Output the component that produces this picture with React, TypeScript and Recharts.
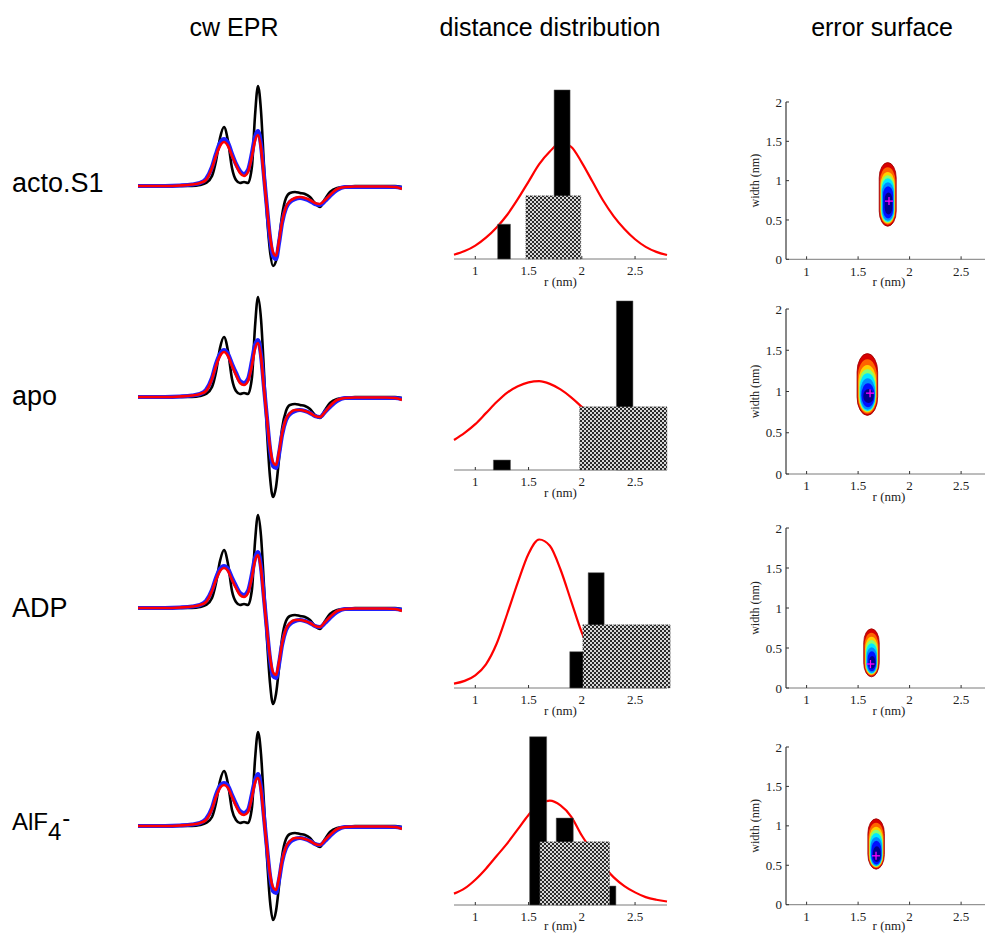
import React from "react";
import {
  LineChart,
  Line,
  ComposedChart,
  XAxis,
  YAxis,
  ReferenceArea,
  Scatter,
} from "recharts";

const SANS = '"Liberation Sans", Arial, Helvetica, sans-serif';
const SERIF = '"Liberation Serif", "Times New Roman", serif';

// ---- cw EPR spectra (field position in px units, amplitude relative to baseline) ----
const EPR_X = [
  138, 150, 165, 180, 192, 200, 206, 212, 216, 220, 224, 228, 232, 236, 240, 244, 248, 252, 255, 258, 261, 264, 267,
  270, 273, 276, 279, 282, 286, 290, 295, 300, 305, 310, 315, 320, 325, 330, 337, 345, 355, 370, 385, 395, 402,
];

const BLACK_ACTO = [0, 0, 0, 0, 0, 1, 3, 10, 25, 48, 59, 45, 18, 6, 3, 4, 3, 20, 70, 100, 75, 20, -30, -65, -80, -75, -55, -30, -12, -7, -6, -7, -8, -11, -17, -21, -13, -6, -2, -1, 0, 0, 0, 0, -1];
const BLUE_ACTO = [0, 0, 0, 0.5, 1.5, 3, 7, 19, 32, 43, 47, 43, 32, 22, 15, 12, 16, 33, 49, 55, 41, 10, -22, -52, -70, -73, -57, -37, -22, -16, -13, -12, -13, -15, -18, -19, -15, -10, -4, -1, -1, -1, -1, -1, -2];
const RED_ACTO = [0, 0, 0, 0.5, 1.5, 3, 6, 18, 30, 40, 44, 40, 30, 21, 13, 10, 14, 30, 45, 51, 38, 8, -22, -50, -66, -70, -55, -36, -21, -15, -12, -11, -12, -14, -17, -18, -14, -9, -3, -1, -0.5, -0.5, -0.5, -1, -3];

const BLACK_APO = [0, 0, 0, 0, 0, 1, 3, 10, 25, 49, 60, 46, 18, 6, 3, 4, 3, 20, 70, 100, 78, 25, -35, -80, -100, -90, -62, -32, -14, -8, -7, -8, -9, -12, -18, -21, -13, -6, -2, -1, 0, 0, 0, 0, -1];
const BLUE_APO = [0, 0, 0, 0.5, 1.5, 3, 7, 19, 33, 43, 47, 43, 33, 24, 16, 14, 18, 36, 52, 57, 42, 10, -22, -52, -69, -71, -57, -38, -23, -17, -14, -13, -14, -16, -19, -20, -15, -10, -4, -1, -1, -1, -1, -1, -2];
const RED_APO = [0, 0, 0, 0.5, 1.5, 3, 6, 18, 31, 41, 45, 41, 31, 22, 14, 12, 16, 32, 48, 54, 40, 8, -22, -50, -65, -68, -55, -37, -22, -16, -13, -13, -14, -16, -19, -20, -15, -9, -3, -1, -0.5, -0.5, -0.5, -1, -3];

const BLACK_ADP = [0, 0, 0, 0, 0, 1, 3, 10, 25, 47, 58, 44, 17, 6, 3, 4, 3, 19, 66, 93, 72, 22, -32, -75, -96, -86, -60, -31, -13, -8, -7, -8, -9, -12, -18, -21, -13, -6, -2, -1, 0, 0, 0, 0, -1];
const BLUE_ADP = [0, 0, 0, 0.5, 1.5, 3, 7, 18, 30, 39, 42, 39, 30, 22, 15, 13, 17, 34, 50, 56, 41, 10, -22, -51, -68, -70, -56, -37, -22, -16, -13, -12, -13, -15, -18, -19, -15, -10, -4, -1, -1, -1, -1, -1, -2];
const RED_ADP = [0, 0, 0, 0.5, 1.5, 3, 6, 17, 28, 37, 40, 37, 28, 20, 13, 11, 15, 31, 47, 53, 39, 8, -22, -49, -64, -67, -54, -36, -21, -15, -12, -12, -13, -15, -18, -19, -14, -9, -3, -1, -0.5, -0.5, -0.5, -1, -3];

const BLACK_ALF = [0, 0, 0, 0, 0, 1, 3, 9, 23, 45, 55, 42, 16, 6, 3, 4, 3, 19, 66, 94, 72, 22, -32, -75, -94, -85, -60, -31, -13, -8, -7, -8, -9, -12, -18, -21, -13, -6, -2, -1, 0, 0, 0, 0, -1];
const BLUE_ALF = [0, 0, 0, 0.5, 1.5, 3, 7, 18, 31, 40, 43, 40, 31, 22, 15, 13, 16, 32, 46, 52, 39, 9, -22, -50, -65, -67, -54, -36, -22, -16, -13, -12, -13, -15, -18, -19, -15, -10, -4, -1, -1, -1, -1, -1, -2];
const RED_ALF = [0, 0, 0, 0.5, 1.5, 3, 6, 17, 29, 38, 41, 38, 29, 20, 13, 11, 14, 29, 43, 48, 36, 7, -22, -48, -61, -64, -52, -35, -21, -15, -12, -12, -13, -15, -18, -19, -14, -9, -3, -1, -0.5, -0.5, -0.5, -1, -3];

// ---- distance distributions ----
const DIST_R = [0.8, 0.9, 1.0, 1.1, 1.2, 1.3, 1.4, 1.5, 1.6, 1.7, 1.8, 1.9, 2.0, 2.1, 2.2, 2.3, 2.4, 2.5, 2.6, 2.7, 2.8];
const FIT_ACTO = [0.027, 0.05, 0.085, 0.135, 0.2, 0.28, 0.38, 0.49, 0.6, 0.68, 0.735, 0.71, 0.61, 0.49, 0.37, 0.27, 0.19, 0.125, 0.077, 0.045, 0.025];
const FIT_APO = [0.19, 0.235, 0.29, 0.36, 0.43, 0.49, 0.53, 0.555, 0.562, 0.545, 0.51, 0.46, 0.4, 0.34, 0.28, 0.22, 0.17, 0.12, 0.09, 0.06, 0.04];
const FIT_ADP = [0.028, 0.045, 0.08, 0.15, 0.28, 0.47, 0.67, 0.85, 0.94, 0.9, 0.75, 0.55, 0.35, 0.2, 0.1, 0.05, 0.03, 0.02, 0.015, 0.012, 0.01];
const FIT_ALF = [0.072, 0.105, 0.16, 0.23, 0.31, 0.39, 0.48, 0.57, 0.64, 0.66, 0.63, 0.56, 0.44, 0.34, 0.25, 0.175, 0.12, 0.08, 0.05, 0.033, 0.022];

// modelled distances: [r from, r to, relative weight]
const BARS_ACTO = [[1.21, 1.33, 0.22], [1.74, 1.89, 1.07]];
const BARS_APO = [[1.17, 1.33, 0.063], [2.325, 2.48, 1.07]];
const BARS_ADP = [[1.887, 2.02, 0.23], [2.06, 2.21, 0.73]];
const BARS_ALF = [[1.51, 1.67, 1.065], [1.76, 1.92, 0.55], [2.26, 2.32, 0.12]];
// checkered band: [r from, r to, height]
const BAND_ACTO = [1.475, 1.99, 0.4];
const BAND_APO = [1.98, 2.8, 0.4];
const BAND_ADP = [2.01, 2.83, 0.4];
const BAND_ALF = [1.606, 2.26, 0.4];

// ---- error surfaces: nested contour levels [r1, r2, w1, w2], outer to inner ----
const LEVEL_COLORS = ["#d80000", "#ff6400", "#ffd000", "#86ff70", "#00e8ff", "#008cff", "#0010ff", "#00008c"];
const SURF_ACTO = [
  [1.705, 1.87, 0.42, 1.23], [1.712, 1.863, 0.44, 1.17], [1.718, 1.857, 0.455, 1.11], [1.722, 1.853, 0.465, 1.07],
  [1.727, 1.85, 0.475, 1.03], [1.733, 1.846, 0.49, 0.98], [1.742, 1.84, 0.52, 0.93], [1.758, 1.832, 0.57, 0.85],
];
const SURF_APO = [
  [1.49, 1.69, 0.71, 1.46], [1.497, 1.683, 0.73, 1.39], [1.504, 1.676, 0.745, 1.32], [1.51, 1.672, 0.755, 1.27],
  [1.516, 1.668, 0.765, 1.22], [1.522, 1.664, 0.78, 1.16], [1.532, 1.66, 0.81, 1.1], [1.55, 1.652, 0.86, 1.03],
];
const SURF_ADP = [
  [1.555, 1.705, 0.14, 0.74], [1.562, 1.698, 0.155, 0.69], [1.568, 1.692, 0.165, 0.64], [1.573, 1.688, 0.172, 0.6],
  [1.578, 1.684, 0.18, 0.56], [1.584, 1.68, 0.19, 0.51], [1.592, 1.675, 0.21, 0.46], [1.605, 1.668, 0.24, 0.4],
];
const SURF_ALF = [
  [1.595, 1.755, 0.45, 1.09], [1.601, 1.749, 0.465, 1.04], [1.607, 1.743, 0.475, 0.99], [1.611, 1.739, 0.48, 0.95],
  [1.616, 1.735, 0.487, 0.91], [1.621, 1.731, 0.495, 0.86], [1.629, 1.726, 0.51, 0.81], [1.643, 1.72, 0.54, 0.74],
];
const BEST_ACTO = { r: 1.8, w: 0.74 };
const BEST_APO = { r: 1.616, w: 0.98 };
const BEST_ADP = { r: 1.62, w: 0.3 };
const BEST_ALF = { r: 1.674, w: 0.62 };

const ROWS = [
  { epr: [BLACK_ACTO, BLUE_ACTO, RED_ACTO], fit: FIT_ACTO, bars: BARS_ACTO, band: BAND_ACTO, surf: SURF_ACTO, best: BEST_ACTO,
    base: 186, distTop: 101, distBottom: 259, surfTop: 101.7, surfBottom: 259, labelTop: 168, labOff: 5 },
  { epr: [BLACK_APO, BLUE_APO, RED_APO], fit: FIT_APO, bars: BARS_APO, band: BAND_APO, surf: SURF_APO, best: BEST_APO,
    base: 397, distTop: 312, distBottom: 470, surfTop: 309, surfBottom: 474, labelTop: 381, labOff: 5 },
  { epr: [BLACK_ADP, BLUE_ADP, RED_ADP], fit: FIT_ADP, bars: BARS_ADP, band: BAND_ADP, surf: SURF_ADP, best: BEST_ADP,
    base: 608, distTop: 530, distBottom: 688, surfTop: 528, surfBottom: 688, labelTop: 593, labOff: 5 },
  { epr: [BLACK_ALF, BLUE_ALF, RED_ALF], fit: FIT_ALF, bars: BARS_ALF, band: BAND_ALF, surf: SURF_ALF, best: BEST_ALF,
    base: 826, distTop: 747, distBottom: 905, surfTop: 747.3, surfBottom: 905, labelTop: 808, labOff: 7 },
];

const tickStyle = { fontFamily: SERIF, fontSize: 13, fill: "#222" };
const axisLabel = (value: string, offset: number) => ({ value, position: "insideBottom", offset, fill: "#222", fontSize: 13, fontFamily: SERIF });

function EprPanel({ row }: any) {
  const [black, blue, red] = row.epr;
  const data = EPR_X.map((x, i) => ({ x, black: black[i], blue: blue[i], red: red[i] }));
  return (
    <div style={{ position: "absolute", left: 138, top: row.base - 110 }}>
      <LineChart width={264} height={220} data={data} margin={{ top: 0, right: 0, bottom: 0, left: 0 }}>
        <XAxis dataKey="x" type="number" domain={[138, 402]} hide />
        <YAxis type="number" domain={[-110, 110]} hide />
        <Line dataKey="black" type="monotone" stroke="#000" strokeWidth={2.6} dot={false} isAnimationActive={false} />
        <Line dataKey="blue" type="monotone" stroke="#2020ff" strokeWidth={4.2} dot={false} isAnimationActive={false} />
        <Line dataKey="red" type="monotone" stroke="#ff0000" strokeWidth={2.6} dot={false} isAnimationActive={false} />
      </LineChart>
    </div>
  );
}

function DistPanel({ row, idx }: any) {
  const mt = 20;
  const ml = 10;
  const mr = 12;
  const xh = 32;
  const h = row.distBottom - row.distTop;
  const data = DIST_R.map((r, i) => ({ r, fit: row.fit[i] }));
  const pid = `checker${idx}`;
  return (
    <div style={{ position: "absolute", left: 454 - ml, top: row.distTop - mt }}>
      <ComposedChart width={ml + 213 + mr} height={mt + h + xh} data={data} margin={{ top: mt, right: mr, bottom: 0, left: ml }}>
        <defs>
          <pattern id={pid} width={4} height={4} patternUnits="userSpaceOnUse">
            <rect width={4} height={4} fill="#d8d8d8" />
            <rect width={2} height={2} fill="#2a2a2a" />
            <rect x={2} y={2} width={2} height={2} fill="#2a2a2a" />
          </pattern>
        </defs>
        <XAxis
          dataKey="r"
          type="number"
          domain={[0.8, 2.8]}
          ticks={[1, 1.5, 2, 2.5]}
          height={xh}
          tickSize={-3}
          tickMargin={10}
          axisLine={{ stroke: "#7a7a7a" }}
          tickLine={{ stroke: "#333" }}
          tick={tickStyle}
          label={axisLabel("r (nm)", row.labOff)}
        />
        <YAxis type="number" domain={[0, 1]} width={0} tick={false} tickLine={false} axisLine={{ stroke: "#7a7a7a" }} />
        <Line dataKey="fit" type="monotone" stroke="#ff0000" strokeWidth={2.2} dot={false} isAnimationActive={false} />
        {row.bars.map((b: number[], i: number) => (
          <ReferenceArea key={`b${i}`} x1={b[0]} x2={b[1]} y1={0} y2={b[2]} fill="#000" fillOpacity={1} stroke="#555" strokeWidth={0.5} ifOverflow="visible" zIndex={500} />
        ))}
        <ReferenceArea x1={row.band[0]} x2={row.band[1]} y1={0} y2={row.band[2]} fill={`url(#${pid})`} fillOpacity={1} stroke="#444" strokeWidth={0.6} strokeDasharray="1 1" ifOverflow="visible" zIndex={510} />
      </ComposedChart>
    </div>
  );
}

const blobShape = (p: any) => {
  const { x, y, width, height, fill, stroke } = p;
  const w = Math.abs(width);
  const hh = Math.abs(height);
  return (
    <rect
      x={Math.min(x, x + width)}
      y={Math.min(y, y + height)}
      width={w}
      height={hh}
      rx={w / 2}
      ry={Math.min(hh / 2, w * 0.9)}
      fill={fill}
      stroke={stroke}
      strokeWidth={stroke ? 0.8 : 0}
    />
  );
};

const plusShape = (p: any) => (
  <g>
    <line x1={p.cx - 4} x2={p.cx + 4} y1={p.cy} y2={p.cy} stroke="#ff00ff" strokeWidth={1.3} />
    <line x1={p.cx} x2={p.cx} y1={p.cy - 4} y2={p.cy + 4} stroke="#ff00ff" strokeWidth={1.3} />
  </g>
);

function SurfPanel({ row }: any) {
  const mt = 12;
  const ml = 10;
  const yw = 40;
  const xh = 30;
  const h = row.surfBottom - row.surfTop;
  return (
    <div style={{ position: "absolute", left: 786 - ml - yw, top: row.surfTop - mt }}>
      <ComposedChart width={ml + yw + 206 + 5} height={mt + h + xh} margin={{ top: mt, right: 5, bottom: 0, left: ml }}>
        <XAxis
          dataKey="r"
          type="number"
          domain={[0.8, 2.8]}
          ticks={[1, 1.5, 2, 2.5]}
          height={xh}
          tickSize={-3}
          tickMargin={10}
          axisLine={{ stroke: "#7a7a7a" }}
          tickLine={{ stroke: "#333" }}
          tick={tickStyle}
          label={axisLabel("r (nm)", row.labOff - 2)}
        />
        <YAxis
          type="number"
          domain={[0, 2]}
          ticks={[0, 0.5, 1, 1.5, 2]}
          width={yw}
          tickSize={-3}
          tickMargin={7}
          axisLine={{ stroke: "#111" }}
          tickLine={{ stroke: "#333" }}
          tick={tickStyle}
          label={{ value: "width (nm)", angle: -90, position: "insideLeft", offset: 9, fill: "#222", fontSize: 12, fontFamily: SERIF, style: { textAnchor: "middle" } }}
        />
        {row.surf.map((s: number[], i: number) => (
          <ReferenceArea
            key={`s${i}`}
            x1={s[0]}
            x2={s[1]}
            y1={s[2]}
            y2={s[3]}
            fill={LEVEL_COLORS[i]}
            fillOpacity={1}
            stroke={i === 0 ? "#9a0000" : undefined}
            shape={blobShape}
            ifOverflow="visible"
          />
        ))}
        <Scatter data={[row.best]} dataKey="w" shape={plusShape} isAnimationActive={false} />
      </ComposedChart>
    </div>
  );
}

function RowLabel({ idx, top }: any) {
  const base = { position: "absolute" as const, left: 12, top, fontFamily: SANS, color: "#000", whiteSpace: "nowrap" as const };
  if (idx === 3) {
    return (
      <div style={{ ...base, fontSize: 24, lineHeight: "28px" }}>
        AlF
        <span style={{ position: "relative", top: 10 }}>4</span>
        <span style={{ position: "relative", top: -4, marginLeft: 1 }}>-</span>
      </div>
    );
  }
  const names = ["acto.S1", "apo", "ADP"];
  return <div style={{ ...base, fontSize: 27, lineHeight: "30px" }}>{names[idx]}</div>;
}

const TITLES = [
  { text: "cw EPR", x: 234 },
  { text: "distance distribution", x: 550 },
  { text: "error surface", x: 882 },
];

export default function App() {
  return (
    <div style={{ position: "absolute", left: 0, top: 0, width: 985, height: 933, overflow: "hidden", background: "#fff" }}>
      {TITLES.map((t) => (
        <div
          key={t.text}
          style={{ position: "absolute", left: t.x - 200, width: 400, top: 13, textAlign: "center", fontFamily: SANS, fontSize: 25, lineHeight: "28px" }}
        >
          {t.text}
        </div>
      ))}
      {ROWS.map((row, i) => (
        <React.Fragment key={i}>
          <RowLabel idx={i} top={row.labelTop} />
          <EprPanel row={row} />
          <DistPanel row={row} idx={i} />
          <SurfPanel row={row} />
        </React.Fragment>
      ))}
    </div>
  );
}
